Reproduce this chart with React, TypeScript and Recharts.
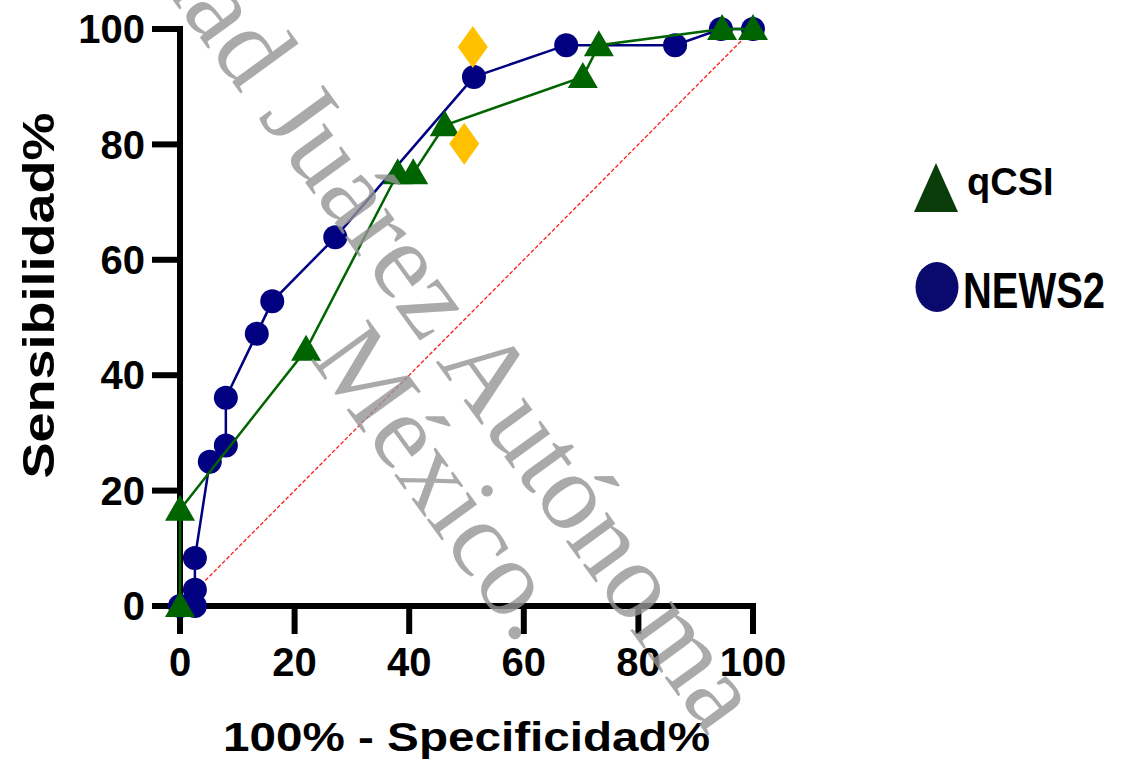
import {
  ScatterChart,
  Scatter,
  XAxis,
  YAxis,
  ReferenceLine,
  Legend,
} from "recharts";

// ROC points: x = 100% - Specificity, y = Sensitivity
const news2X = [0, 2.6, 2.6, 2.6, 5.2, 8.0, 8.0, 13.4, 16.1, 27.1, 51.3, 67.4, 86.4, 94.4, 100];
const news2Y = [0, 0, 2.8, 8.3, 25.0, 27.8, 36.1, 47.2, 52.8, 63.9, 91.7, 97.2, 97.2, 100, 100];

const qcsiX = [0, 0, 22.0, 38.0, 40.7, 46.2, 70.3, 73.1, 94.6, 100];
const qcsiY = [0, 16.7, 44.4, 75.0, 75.0, 83.3, 91.7, 97.2, 100, 100];

// cut-off points marked separately
const cutX = [51.1, 49.6];
const cutY = [96.9, 80.1];

const ticks = [0, 20, 40, 60, 80, 100];

const zip = (xs: number[], ys: number[]) => xs.map((x, i) => ({ x, y: ys[i] }));
const news2 = zip(news2X, news2Y);
const qcsi = zip(qcsiX, qcsiY);
const cuts = zip(cutX, cutY);

const NAVY = "#000080";
const GREEN = "#006400";
const GOLD = "#ffc000";
const SANS = "'Liberation Sans', Arial, sans-serif";

const Dot = (p: any) => <circle cx={p.cx} cy={p.cy} r={12} fill={NAVY} />;

const Tri = (p: any) => (
  <polygon
    points={`${p.cx - 15},${p.cy + 11} ${p.cx + 15},${p.cy + 11} ${p.cx},${p.cy - 15}`}
    fill={GREEN}
  />
);

const Diamond = (p: any) => (
  <polygon
    points={`${p.cx},${p.cy - 21} ${p.cx + 15},${p.cy} ${p.cx},${p.cy + 21} ${p.cx - 15},${p.cy}`}
    fill={GOLD}
  />
);

const tickStyle = { fontSize: 40, fontWeight: 700, fill: "#000", fontFamily: SANS };
const axisStroke = { stroke: "#000", strokeWidth: 6, strokeLinecap: "square" as const };

const XTitle = (props: any) => {
  const vb = props.viewBox;
  return (
    <text
      x={vb.x + vb.width / 2}
      y={vb.y + 145}
      textAnchor="middle"
      fontSize={40}
      fontWeight={700}
      fontFamily={SANS}
      textLength={487}
      lengthAdjust="spacingAndGlyphs"
    >
      100% - Specificidad%
    </text>
  );
};

const YTitle = (props: any) => {
  const vb = props.viewBox;
  const cy = vb.y + vb.height / 2 - 22;
  return (
    <text
      transform={`translate(${vb.x + 54},${cy}) rotate(-90)`}
      textAnchor="middle"
      fontSize={44}
      fontWeight={700}
      fontFamily={SANS}
      textLength={366}
      lengthAdjust="spacingAndGlyphs"
    >
      Sensibilidad%
    </text>
  );
};

const LegendBox = () => (
  <svg width={216} height={180} style={{ overflow: "visible" }}>
    <polygon points="9,62 53,62 31,13" fill="#0a3d0a" />
    <text x={62} y={45} fontSize={38} fontWeight={700} fontFamily={SANS}>
      qCSI
    </text>
    <ellipse cx={32} cy={137} rx={21.5} ry={25} fill="#0a0a6e" />
    <text
      x={58}
      y={158}
      fontSize={50}
      fontWeight={700}
      fontFamily={SANS}
      textLength={142}
      lengthAdjust="spacingAndGlyphs"
    >
      NEWS2
    </text>
  </svg>
);

export default function App() {
  return (
    <div style={{ position: "absolute", left: 0, top: 0, width: 1121, height: 760, background: "#fff" }}>
      <ScatterChart width={1121} height={760} margin={{ top: 29, right: 368, bottom: 0, left: 0 }}>
        <XAxis
          type="number"
          dataKey="x"
          domain={[0, 100]}
          ticks={ticks}
          height={154}
          tick={tickStyle}
          tickSize={25}
          tickMargin={17}
          axisLine={axisStroke}
          tickLine={axisStroke}
          label={XTitle}
        />
        <YAxis
          type="number"
          dataKey="y"
          domain={[0, 100]}
          ticks={ticks}
          width={180}
          tick={tickStyle}
          tickSize={25}
          tickMargin={10}
          axisLine={axisStroke}
          tickLine={axisStroke}
          label={YTitle}
        />
        <ReferenceLine
          segment={[
            { x: 0, y: 0 },
            { x: 100, y: 100 },
          ]}
          stroke="#ff1a1a"
          strokeWidth={1.3}
          strokeDasharray="4 2"
        />
        <Scatter
          name="NEWS2"
          data={news2}
          shape={Dot}
          line={{ stroke: NAVY, strokeWidth: 2.5 }}
          lineType="joint"
          isAnimationActive={false}
        />
        <Scatter
          name="qCSI"
          data={qcsi}
          shape={Tri}
          line={{ stroke: GREEN, strokeWidth: 2.5 }}
          lineType="joint"
          isAnimationActive={false}
        />
        <Scatter name="cut" data={cuts} shape={Diamond} isAnimationActive={false} />
        <Legend
          layout="horizontal"
          verticalAlign="middle"
          align="center"
          content={LegendBox}
          wrapperStyle={{ position: "absolute", left: 905, top: 150, width: 216, height: 180 }}
        />
      </ScatterChart>
      {/* watermark */}
      <svg
        width={1121}
        height={760}
        style={{ position: "absolute", left: 0, top: 0, pointerEvents: "none" }}
      >
        <g
          transform="translate(486,445) rotate(54)"
          fill="#969696"
          opacity={0.8}
          fontFamily="'Liberation Serif', 'Times New Roman', serif"
        >
          <text x={-965} y={-8} fontSize={110}>
            Universidad Juárez Autónoma
          </text>
          <text x={4} y={92} fontSize={108} textAnchor="middle">
            México.
          </text>
        </g>
      </svg>
    </div>
  );
}
